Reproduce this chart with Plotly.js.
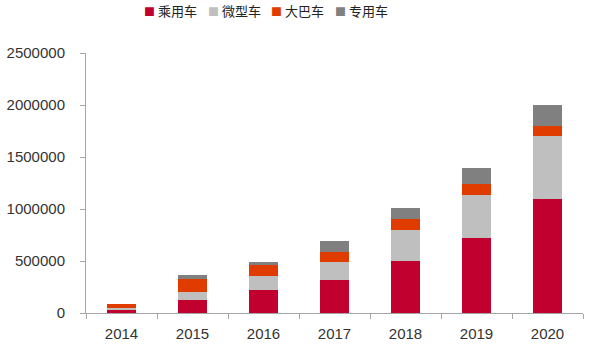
<!DOCTYPE html>
<html>
<head>
<meta charset="utf-8">
<script src="https://cdn.plot.ly/plotly-3.0.1.min.js"></script>
<style>html,body{margin:0;padding:0;background:#fff;}#chart{width:597px;height:351px;}</style>
</head>
<body>
<div id="chart"></div>
<script>
// Data
var years = ['2014', '2015', '2016', '2017', '2018', '2019', '2020'];
var seriesNames = ['乘用车', '微型车', '大巴车', '专用车'];
var passengerCars = [25000, 125000, 220000, 320000, 500000, 720000, 1100000];
var microCars = [20000, 75000, 140000, 170000, 300000, 410000, 600000];
var buses = [40000, 130000, 100000, 100000, 100000, 110000, 100000];
var specialVehicles = [0, 40000, 35000, 100000, 110000, 150000, 200000];
var yTickVals = [0, 500000, 1000000, 1500000, 2000000, 2500000];
var yTickText = ['0', '500000', '1000000', '1500000', '2000000', '2500000'];

var colors = ['#C20030', '#BFBFBF', '#E03C00', '#808080'];
var seriesValues = [passengerCars, microCars, buses, specialVehicles];

var traces = seriesValues.map(function (vals, i) {
  return {
    type: 'bar',
    x: years,
    y: vals,
    name: seriesNames[i],
    marker: {color: colors[i], line: {width: 0}},
    showlegend: false,
    hoverinfo: 'x+y+name'
  };
});

// Legend drawn as text annotations built from the series names and colours
var plotLeft = 86, plotWidth = 497, plotTop = 53, plotHeight = 260;
var annotations = seriesNames.map(function (n, i) {
  var px = 142 + i * 63.5;
  return {
    xref: 'paper', yref: 'paper',
    x: (px - plotLeft) / plotWidth,
    y: (plotTop + plotHeight - 11) / plotHeight,
    xanchor: 'left', yanchor: 'middle',
    showarrow: false,
    text: '<span style="color:' + colors[i] + ';font-size:11px">■</span> ' + n,
    font: {family: '"Noto Sans CJK SC", sans-serif', size: 13, color: '#222'}
  };
});

var layout = {
  width: 597, height: 351,
  margin: {l: plotLeft, r: 597 - plotLeft - plotWidth, t: plotTop, b: 351 - plotTop - plotHeight, pad: 0},
  paper_bgcolor: '#fff', plot_bgcolor: '#fff',
  barmode: 'stack',
  bargap: 0.6,
  showlegend: false,
  font: {family: '"Liberation Sans", Arial, sans-serif', size: 15, color: '#333'},
  xaxis: {
    type: 'category',
    showline: true, linecolor: '#A6A6A6', linewidth: 1,
    ticks: 'outside', tickson: 'boundaries', ticklen: 5, tickcolor: '#A6A6A6',
    showgrid: false, zeroline: false,
    ticklabelstandoff: 7,
    tickfont: {size: 15, color: '#333'}
  },
  yaxis: {
    range: [0, 2500000],
    tickvals: yTickVals, ticktext: yTickText,
    showline: true, linecolor: '#A6A6A6', linewidth: 1,
    ticks: 'outside', ticklen: 5, tickcolor: '#A6A6A6',
    showgrid: false, zeroline: false,
    ticklabelstandoff: 12,
    tickfont: {size: 15, color: '#333'}
  },
  annotations: annotations
};

Plotly.newPlot('chart', traces, layout, {displayModeBar: false, staticPlot: true});
</script>
</body>
</html>
